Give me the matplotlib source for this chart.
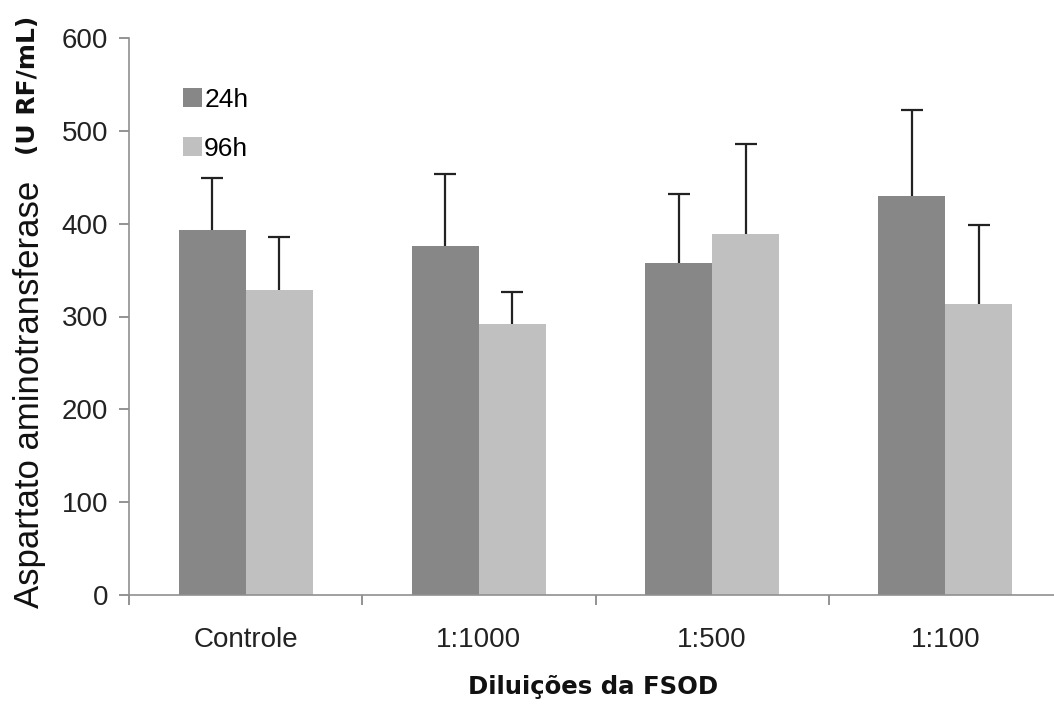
import matplotlib
matplotlib.use("Agg")
import matplotlib.pyplot as plt
import numpy as np

categories = ["Controle", "1:1000", "1:500", "1:100"]
series_names = ["24h", "96h"]
values_24h = [393, 376, 358, 430]
values_96h = [329, 292, 389, 314]
err_24h = [56, 78, 74, 92]
err_96h = [57, 34, 97, 85]
y_ticks = [0, 100, 200, 300, 400, 500, 600]

plt.rcParams['font.family'] = ['Liberation Sans', 'DejaVu Sans']

W, H = 1054, 705
fig = plt.figure(figsize=(W / 100, H / 100), dpi=100)
left, right, bottom, top = 129, 1062, 595, 38
ax = fig.add_axes([left / W, (H - bottom) / H, (right - left) / W, (bottom - top) / H])

x = np.arange(len(categories))
bw = 0.287
c_dark = "#878787"
c_light = "#c0c0c0"
ax.bar(x - bw / 2, values_24h, bw, color=c_dark, label=series_names[0], zorder=2)
ax.bar(x + bw / 2, values_96h, bw, color=c_light, label=series_names[1], zorder=2)
for xs, vals, errs in [(x - bw / 2, values_24h, err_24h), (x + bw / 2, values_96h, err_96h)]:
    eb = ax.errorbar(xs, vals, yerr=[np.zeros(len(xs)), errs], fmt='none',
                     ecolor='#222222', elinewidth=1.6, capsize=8, capthick=1.6, zorder=3)
    caps = eb[1]
    caps[0].set_visible(False)

ax.set_xlim(-0.5, len(categories) - 0.5)
ax.set_ylim(0, 600)
ax.set_yticks(y_ticks)
ax.set_yticklabels([str(t) for t in y_ticks], fontsize=20, color='#222222')
ax.set_xticks(np.arange(len(categories) + 1) - 0.5)
ax.set_xticklabels([])
ax.set_xticks(x, minor=True)
ax.set_xticklabels(categories, minor=True, fontsize=20, color='#222222')
ax.tick_params(axis='x', which='minor', length=0, pad=23)
ax.tick_params(axis='x', which='major', length=7, color='#808080', direction='out', width=1.2)
ax.tick_params(axis='y', length=7, color='#808080', direction='out', width=1.2, pad=8)

for s in ['top', 'right']:
    ax.spines[s].set_visible(False)
for s in ['left', 'bottom']:
    ax.spines[s].set_color('#909090')
    ax.spines[s].set_linewidth(1.2)

ax.legend(loc='upper left', bbox_to_anchor=((172 - left) / (right - left), (bottom - 77) / (bottom - top)),
          frameon=False, fontsize=19, handlelength=0.72, handleheight=0.72,
          handletextpad=0.1, labelspacing=0.95, borderaxespad=0)

fig.text(30 / W, (H - 608) / H, "Aspartato aminotransferase", rotation=90,
         ha='center', va='bottom', fontsize=25, color='#111111')
fig.text(28 / W, (H - 155) / H, "(U RF/mL)", rotation=90,
         ha='center', va='bottom', fontsize=18, fontweight='bold', color='#111111',
         family='DejaVu Sans')
fig.text(593 / W, (H - 687) / H, "Diluições da FSOD", ha='center', va='center',
         fontsize=17.6, fontweight='bold', color='#111111', family='DejaVu Sans')

fig.savefig("out.png", dpi=100)
